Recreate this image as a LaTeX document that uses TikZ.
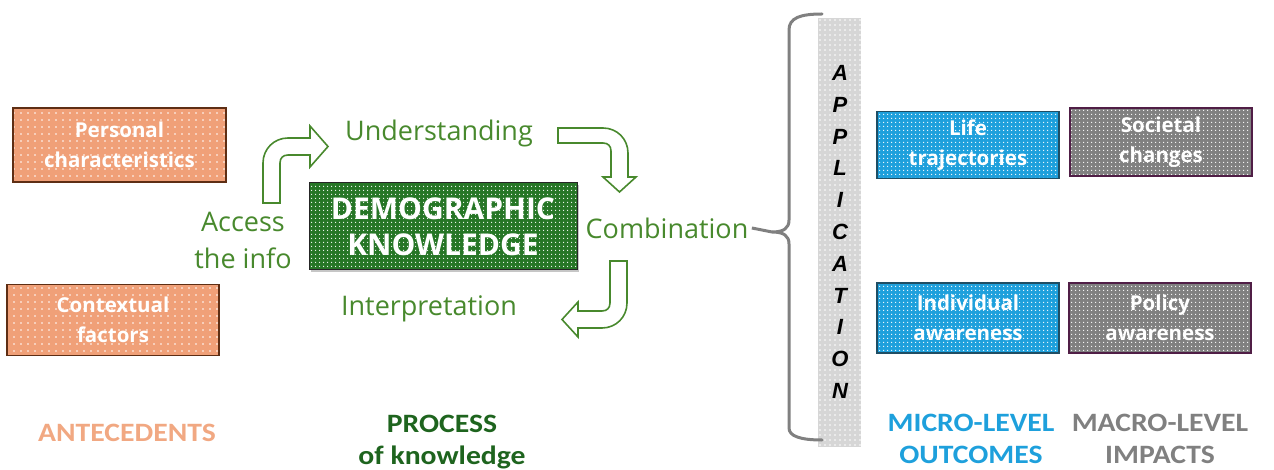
\documentclass[tikz,border=0pt]{standalone}
\usepackage{fontspec}
\setmainfont{Open Sans}
\newfontfamily\narrowfont[FakeStretch=1.12]{Carlito}
\newfontfamily\appfont{Liberation Sans}
\usetikzlibrary{patterns.meta,shadows}

\definecolor{salmon}{RGB}{240,160,120}
\definecolor{salmonline}{RGB}{94,46,20}
\definecolor{salmontext}{RGB}{241,168,130}
\definecolor{demogreen}{RGB}{38,118,38}
\definecolor{procgreen}{RGB}{72,137,45}
\definecolor{darkgreen}{RGB}{30,100,30}
\definecolor{microblue}{RGB}{30,160,220}
\definecolor{blueline}{RGB}{31,78,100}
\definecolor{macrogray}{RGB}{128,128,128}
\definecolor{grayline}{RGB}{80,30,70}
\definecolor{colgray}{RGB}{214,214,214}

\begin{document}
\begin{tikzpicture}[x=1pt, y=-1pt, >=stealth,
    box/.style={draw, line width=1.5pt, align=center, text=white, inner sep=0pt,
      minimum width=182pt, minimum height=68pt,
      font=\bfseries\fontsize{20.5}{29.5}\selectfont,
      pattern={Dots[radius=0.8pt, distance=4pt]}, pattern color=white},
    antebox/.style={box, draw=salmonline, preaction={fill=salmon},
      pattern={Dots[radius=0.8pt, distance=7pt]}},
    microbox/.style={box, draw=blueline, preaction={fill=microblue}},
    macrobox/.style={box, draw=grayline, preaction={fill=macrogray}},
    stage/.style={text=procgreen, align=center, font=\fontsize{27}{37}\selectfont},
    blockarrow/.style={draw=procgreen, line width=1.6pt, line join=miter},
    caption/.style={align=center, inner sep=0pt, font=\narrowfont\bfseries\fontsize{26.5}{32}\selectfont}]
    \useasboundingbox (0,0) rectangle (1274,470);

    % antecedents
    \node[antebox, minimum width=213pt, minimum height=74pt] (pers) at (119.5,145) {Personal\\characteristics};
    \node[antebox, minimum width=212pt, minimum height=71pt] (cont) at (113,320) {Contextual\\factors};

    % process of knowledge
    \node[box, draw=black!85, line width=1pt, drop shadow={opacity=0.45, shadow xshift=2pt, shadow yshift=-2pt},
      preaction={fill=demogreen}, minimum width=268pt, minimum height=87pt,
      font=\bfseries\fontsize{30}{36}\selectfont] (demo) at (443,226.5) {DEMOGRAPHIC\\KNOWLEDGE};
    \node[stage] (access) at (243,240) {Access\\the info};
    \node[stage] (under) at (439,133) {Understanding};
    \node[stage] (comb) at (667,228) {Combination};
    \node[stage] (interp) at (429,309) {Interpretation};

    % bent block arrows
    \draw[blockarrow] (263,203) -- (263,163) .. controls (263,149) and (274,138) .. (288,138) -- (310,138)
      -- (310,126) -- (328,146.5) -- (310,167) -- (310,155) -- (288,155)
      .. controls (283,155) and (280,158) .. (280,163) -- (280,203) -- cycle;
    \draw[blockarrow] (558,128) -- (603,128) .. controls (617,128) and (628,139) .. (628,153) -- (628,177)
      -- (636,177) -- (619.5,192) -- (603,177) -- (611,177) -- (611,151)
      .. controls (611,146) and (608,143) .. (603,143) -- (558,143) -- cycle;
    \draw[blockarrow] (610,261) -- (627,261) -- (627,303) .. controls (627,317) and (616,328) .. (602,328)
      -- (578,328) -- (578,337) -- (562,319.5) -- (578,302) -- (578,311) -- (602,311)
      .. controls (607,311) and (610,308) .. (610,303) -- cycle;

    % application
    \fill[colgray] (818,18) rectangle (861,447);
    \fill[pattern={Dots[radius=0.8pt, distance=5pt]}, pattern color=white] (818,18) rectangle (861,447);
    \foreach \l [count=\i] in {A,P,P,L,I,C,A,T,I,O,N}
      \node[font=\appfont\bfseries\itshape\fontsize{22}{22}\selectfont] (app-\i) at (840,{73+(\i-1)*31.8}) {\l};
    \coordinate (cusp) at (772,232);
    \draw[macrogray, line width=3pt, line cap=round]
      (822,14) .. controls (800,14) and (789,18) .. (789,30) -- (789,220)
      .. controls (789,228) and (784,232) .. (cusp)
      .. controls (784,232) and (789,236) .. (789,244) -- (789,428)
      .. controls (789,436) and (800,440) .. (822,440);
    \draw[macrogray, line width=3pt] (comb.east) -- (cusp);

    % outcomes and impacts
    \node[microbox, minimum height=67pt] (life) at (968,145) {Life\\trajectories};
    \node[macrobox] (soc) at (1161,142) {Societal\\changes};
    \node[microbox, minimum height=70pt] (indiv) at (968,318) {Individual\\awareness};
    \node[macrobox, minimum height=70pt] (pol) at (1160,318) {Policy\\awareness};

    % column captions
    \node[caption, text=salmontext] (ante) at (127,433) {ANTECEDENTS};
    \node[caption, text=darkgreen] (proc) at (442,442.5) {PROCESS\\of knowledge};
    \node[caption, text=microblue] (micro) at (971,439) {MICRO-LEVEL\\OUTCOMES};
    \node[caption, text=macrogray] (macro) at (1160,439) {MACRO-LEVEL\\IMPACTS};
\end{tikzpicture}
\end{document}
